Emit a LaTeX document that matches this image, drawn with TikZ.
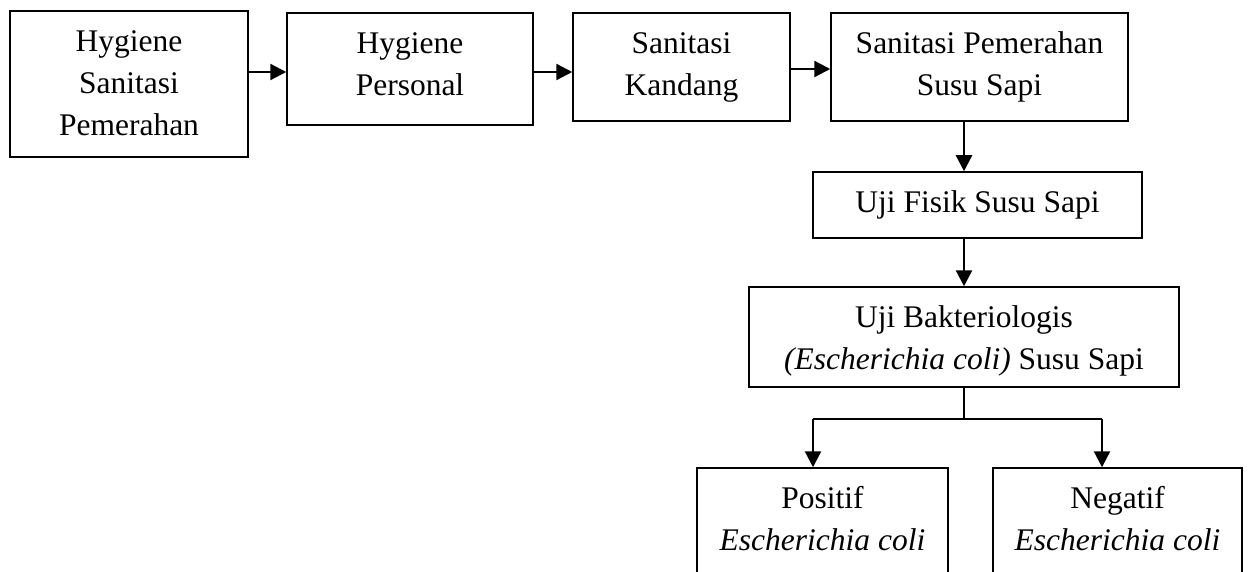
\documentclass[tikz,border=0pt]{standalone}
\usepackage{fontspec}
\setmainfont{Liberation Serif}
\usetikzlibrary{arrows.meta}
\newcommand{\fstrut}{\rule{0pt}{22pt}}
\begin{document}
\begin{tikzpicture}[x=1pt,y=-1pt,
  box/.style={draw, line width=1.5pt, inner sep=0pt, rectangle},
  lbl/.style={inner sep=0pt, align=center, anchor=north, font=\fontsize{31.5}{42}\selectfont},
  arr/.style={line width=2.3pt, -{Triangle[length=16pt,width=16pt]}},
  ln/.style={line width=1.5pt}]
\useasboundingbox (0,0) rectangle (1249,572);
\clip (0,0) rectangle (1249,572);
% boxes
\node[box, minimum width=238pt, minimum height=146pt] (b1) at (129,84) {};
\node[box, minimum width=246pt, minimum height=112pt] (b2) at (410,69) {};
\node[box, minimum width=217pt, minimum height=108pt] (b3) at (681.5,67) {};
\node[box, minimum width=297pt, minimum height=108pt] (b4) at (979.5,67) {};
\node[box, minimum width=329pt, minimum height=66pt] (b5) at (977.5,205) {};
\node[box, minimum width=430pt, minimum height=100pt] (b6) at (964,337) {};
\node[box, minimum width=251pt, minimum height=106pt] (b7) at (822.5,521) {};
\node[box, minimum width=249pt, minimum height=106pt] (b8) at (1117.5,521) {};
% texts
\node[lbl] (t1) at (129,29) {\fstrut Hygiene\\Sanitasi\\Pemerahan};
\node[lbl] (t2) at (410,31) {\fstrut Hygiene\\Personal};
\node[lbl] (t3) at (681.5,31) {\fstrut Sanitasi\\Kandang};
\node[lbl] (t4) at (979.5,31) {\fstrut Sanitasi Pemerahan\\Susu Sapi};
\node[lbl] (t5) at (977.5,190) {\fstrut Uji Fisik Susu Sapi};
\node[lbl] (t6) at (964,305) {\fstrut Uji Bakteriologis\\\textit{(Escherichia coli)} Susu Sapi};
\node[lbl] (t7) at (822.5,486) {\fstrut Positif\\\textit{Escherichia coli}};
\node[lbl] (t8) at (1117.5,486) {\fstrut Negatif\\\textit{Escherichia coli}};
% connectors
\coordinate (h1) at (0,72);
\coordinate (h3) at (0,69);
\coordinate (v1) at (964,0);
\coordinate (j) at (964,419);
\coordinate (v7) at (813,0);
\coordinate (v8) at (1102,0);
\draw[arr] (b1.east |- h1) -- (b2.west |- h1);
\draw[arr] (b2.east |- h1) -- (b3.west |- h1);
\draw[arr] (b3.east |- h3) -- (b4.west |- h3);
\draw[arr] (v1 |- b4.south) -- (v1 |- b5.north);
\draw[arr] (b5.south -| b6.north) -- (b6.north);
\draw[ln] (b6.south) -- (j);
\draw[ln] (v7 |- j) -- (v8 |- j);
\draw[arr] (v7 |- j) -- (v7 |- b7.north);
\draw[arr] (v8 |- j) -- (v8 |- b8.north);
\end{tikzpicture}
\end{document}
